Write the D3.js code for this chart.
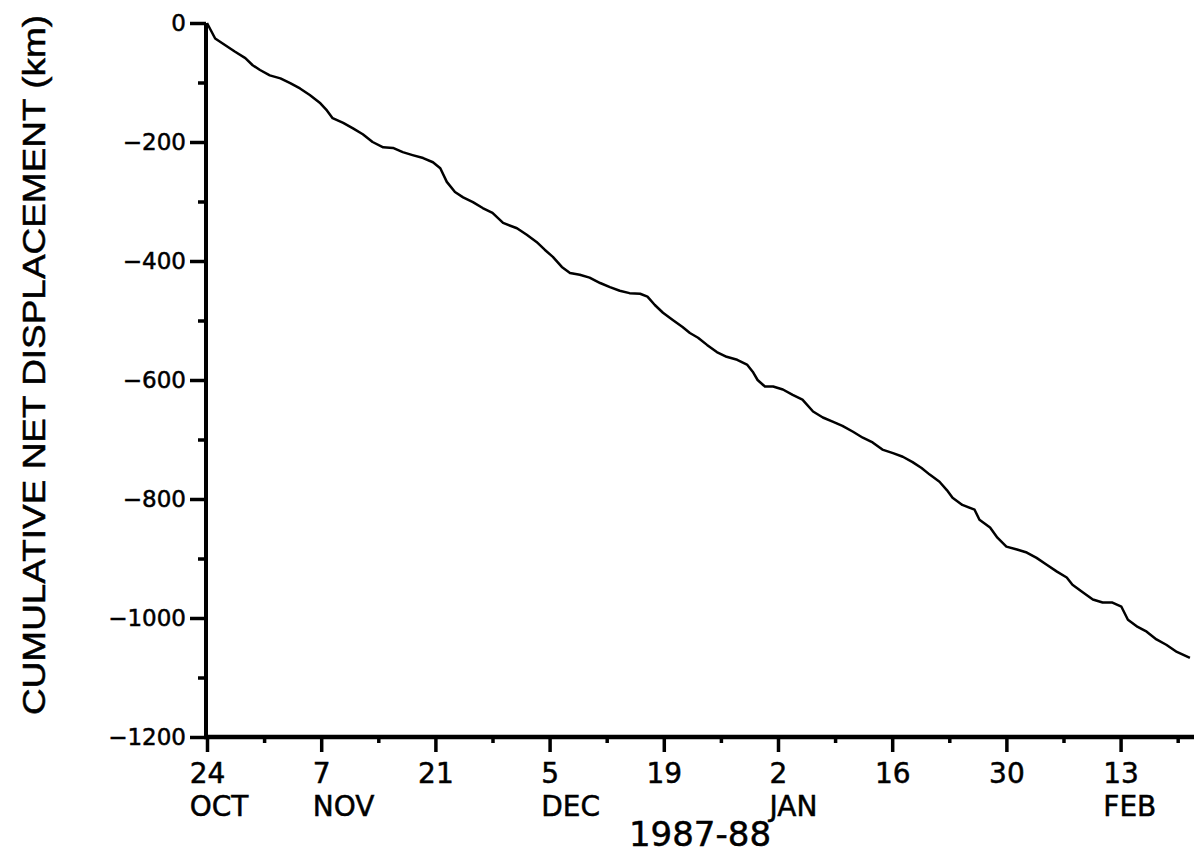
<!DOCTYPE html>
<html>
<head>
<meta charset="utf-8">
<script src="https://cdn.jsdelivr.net/npm/d3@7"></script>
<style>
  body { margin: 0; background: #fff; }
  text { font-family: "DejaVu Sans", sans-serif; fill: #000; stroke: #000; stroke-width: 0.5px; }
</style>
</head>
<body>
<div id="chart"></div>
<script>
// days since 24 Oct 1987
const days = [0, 1.0, 2.2, 3.4, 4.7, 5.6, 6.5, 7.7, 9.0, 10.2, 11.4, 12.6, 13.9, 14.7, 15.4,
  16.7, 17.9, 19.1, 20.3, 21.6, 22.8, 24.0, 25.2, 26.5, 27.7, 28.6, 29.4, 30.4, 31.4,
  32.6, 33.8, 35.0, 36.3, 38.0, 39.2, 40.4, 41.4, 42.4, 43.5, 44.5, 45.7, 46.9, 48.2,
  49.4, 50.6, 51.8, 53.1, 54.0, 54.9, 55.9, 57.1, 58.3, 59.2, 60.2, 61.3, 62.5, 63.7,
  65.0, 66.2, 66.9, 67.5, 68.4, 69.4, 70.6, 71.8, 73.0, 74.3, 75.5, 76.7, 77.9, 79.2,
  80.4, 81.6, 82.8, 84.1, 85.3, 86.5, 87.6, 88.6, 89.8, 90.7, 91.4, 92.6, 94.1, 94.7,
  96.0, 96.9, 98.0, 99.3, 100.5, 101.7, 102.9, 104.2, 105.4, 106.1, 107.4, 108.6,
  109.8, 111.0, 112.1, 112.9, 114.1, 115.2, 116.4, 117.6, 118.9, 120.5];

// cumulative net displacement (km)
const displacement = [0, -26, -37, -48, -59, -71, -79, -88, -93, -101, -110, -121, -135, -147, -160,
  -168, -177, -187, -200, -209, -210, -217, -222, -227, -234, -244, -267, -284, -293,
  -301, -311, -319, -336, -345, -356, -368, -381, -393, -410, -420, -423, -428, -437,
  -444, -450, -454, -455, -460, -474, -487, -499, -511, -521, -529, -541, -553, -561,
  -566, -574, -586, -600, -611, -611, -616, -625, -633, -653, -663, -670, -677, -687,
  -697, -705, -717, -723, -729, -738, -748, -759, -771, -785, -798, -810, -818, -835,
  -848, -865, -880, -885, -890, -899, -910, -922, -932, -944, -957, -969,
  -974, -974, -981, -1003, -1015, -1023, -1036, -1045, -1057, -1067];

const majorTickDays = [0, 14, 28, 42, 56, 70, 84, 98, 112];
const minorTickDays = [7, 21, 35, 49, 63, 77, 91, 105, 119];
const dayLabels = ["24", "7", "21", "5", "19", "2", "16", "30", "13"];
const monthLabels = ["OCT", "NOV", "", "DEC", "", "JAN", "", "", "FEB"];
const yMajorTicks = [0, -200, -400, -600, -800, -1000, -1200];
const yMinorTicks = [-100, -300, -500, -700, -900, -1100];

const W = 1198, H = 854;
const x = d3.scaleLinear().domain([0, 121]).range([207, 1194]);
const y = d3.scaleLinear().domain([0, -1200]).range([23, 737]);

const svg = d3.select("#chart").append("svg")
  .attr("width", W).attr("height", H);

// === Axes ===
const yAxis = svg.append("g")
  .attr("transform", `translate(${x(0) - 1},0)`)
  .call(d3.axisLeft(y).tickValues(yMajorTicks).tickSize(16).tickPadding(4)
    .tickFormat(d => d === 0 ? "0" : "\u2212" + Math.abs(d)));
yAxis.select(".domain").attr("stroke-width", 4).attr("d", `M0,${y(0)}V${y(-1200)}`);
yAxis.selectAll(".tick line").attr("stroke-width", 3.5);
yAxis.selectAll(".tick text").style("font-size", "23px").attr("font-family", null);

const yMinor = svg.append("g")
  .attr("transform", `translate(${x(0) - 1},0)`)
  .call(d3.axisLeft(y).tickValues(yMinorTicks).tickSize(8).tickFormat(""));
yMinor.select(".domain").remove();
yMinor.selectAll(".tick line").attr("stroke-width", 3.5);

const xAxis = svg.append("g")
  .attr("transform", `translate(0,${y(-1200)})`)
  .call(d3.axisBottom(x).tickValues(majorTickDays).tickSize(15).tickPadding(11)
    .tickFormat((d, i) => dayLabels[i]));
xAxis.select(".domain").attr("stroke-width", 4.5).attr("d", `M${x(0) - 3},0H${x(121)}`);
xAxis.selectAll(".tick line").attr("stroke-width", 3.5);
xAxis.selectAll(".tick text").style("font-size", "28px").attr("font-family", null);

// month names sit under the day number, left aligned with it
xAxis.selectAll(".tick").each(function (d, i) {
  const t = d3.select(this);
  const w = t.select("text").node().getComputedTextLength();
  t.append("text")
    .attr("x", -w / 2)
    .attr("y", 79)
    .attr("text-anchor", "start")
    .style("font-size", "28px")
    .text(monthLabels[i]);
});

const xMinor = svg.append("g")
  .attr("transform", `translate(0,${y(-1200)})`)
  .call(d3.axisBottom(x).tickValues(minorTickDays).tickSize(6).tickFormat(""));
xMinor.select(".domain").remove();
xMinor.selectAll(".tick line").attr("stroke-width", 3.5);

// === Labels ===
svg.append("text")
  .attr("x", 700).attr("y", 846)
  .attr("text-anchor", "middle")
  .style("font-size", "34px")
  .text("1987-88");

svg.append("text")
  .attr("transform", "translate(45,365) rotate(-90)")
  .attr("text-anchor", "middle")
  .attr("textLength", 700)
  .attr("lengthAdjust", "spacingAndGlyphs")
  .style("font-family", "'Liberation Sans', sans-serif")
  .style("font-size", "31px")
  .text("CUMULATIVE NET DISPLACEMENT (km)");

// === Line ===
const line = d3.line()
  .x((d, i) => x(days[i]))
  .y(d => y(d));

svg.append("path")
  .datum(displacement)
  .attr("fill", "none")
  .attr("stroke", "#000")
  .attr("stroke-width", 2.5)
  .attr("stroke-linejoin", "round")
  .attr("d", line);
</script>
</body>
</html>
